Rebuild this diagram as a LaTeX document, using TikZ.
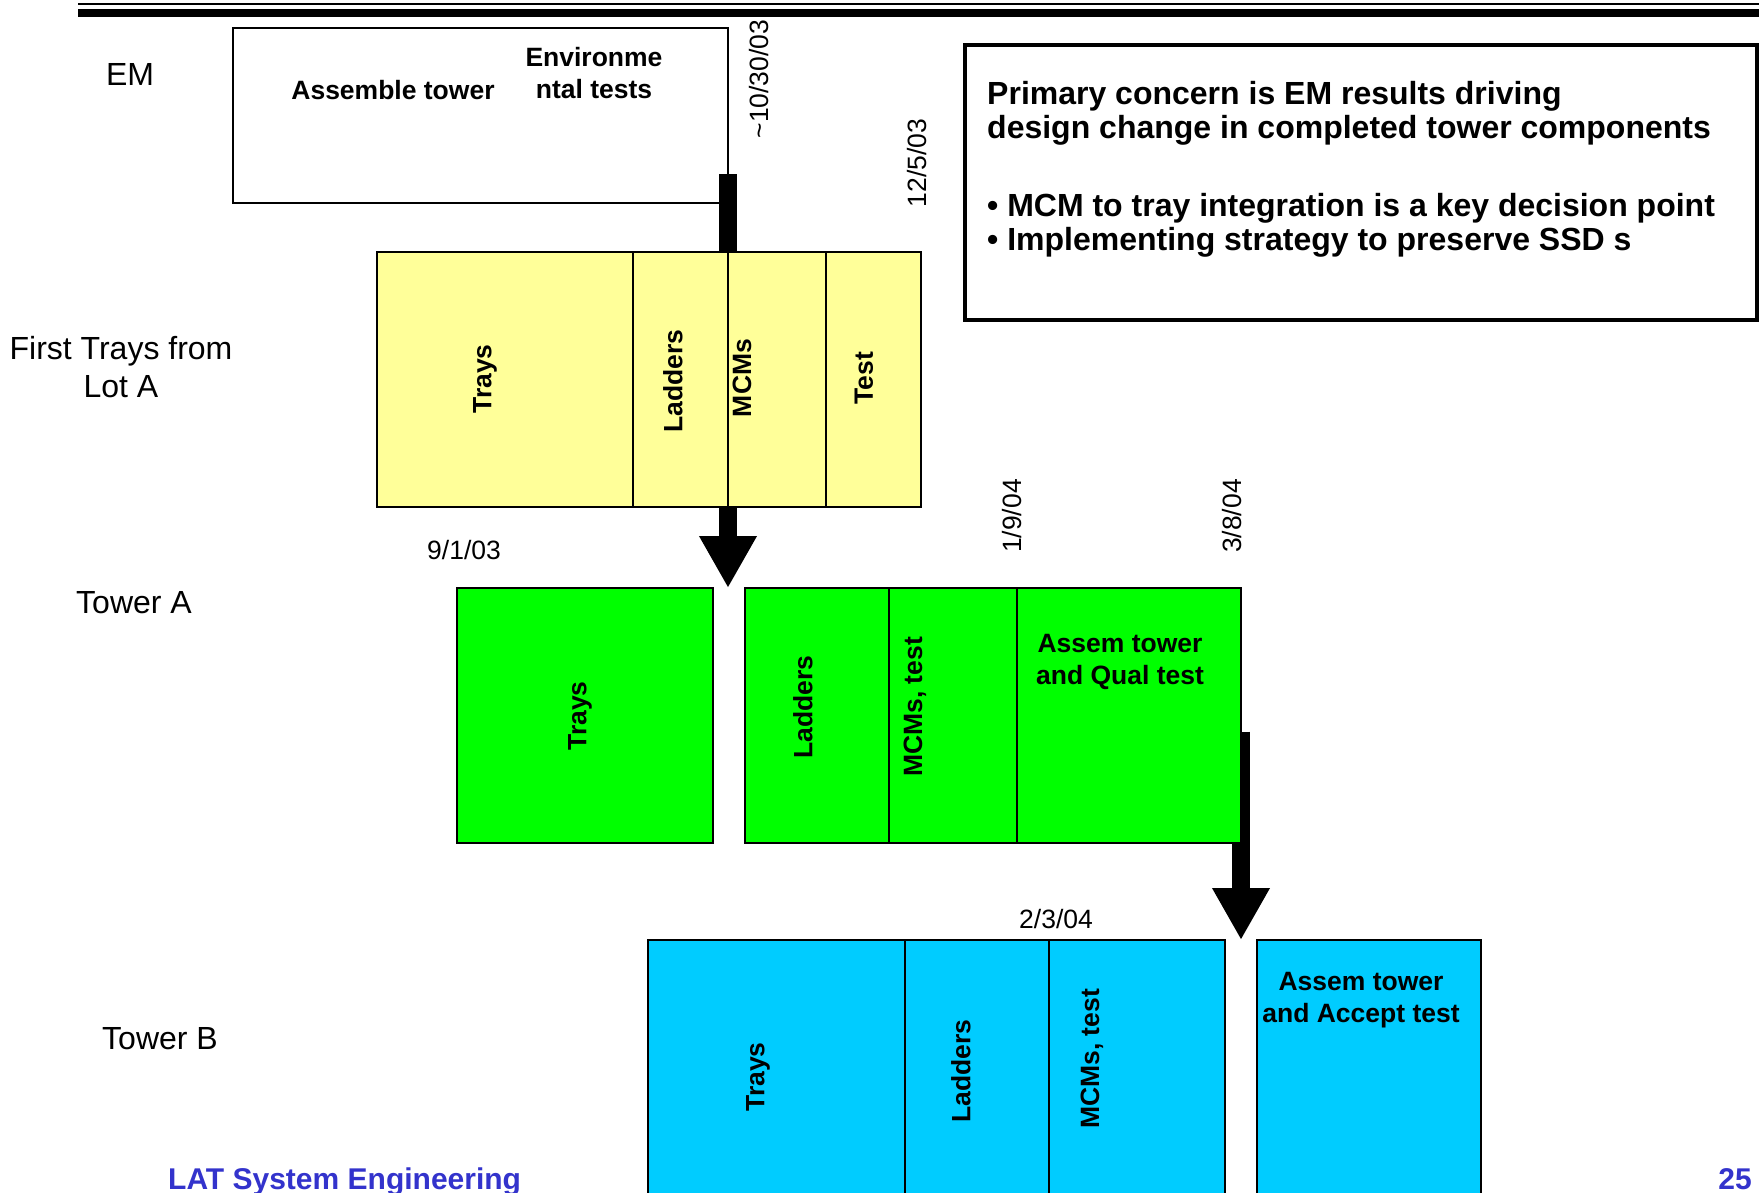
\documentclass[tikz,border=0pt]{standalone}
\usepackage{fontspec}
\setmainfont{Liberation Sans}
\usetikzlibrary{arrows.meta,backgrounds}
\definecolor{trayYellow}{RGB}{255,255,153}
\definecolor{towerGreen}{RGB}{0,255,0}
\definecolor{towerCyan}{RGB}{0,204,255}
\definecolor{footBlue}{RGB}{51,51,204}
\newcommand{\sidefont}{\fontsize{32}{38}\selectfont}
\newcommand{\datefont}{\fontsize{26.5}{31}\selectfont}
\newcommand{\cellfont}{\fontsize{26.5}{32}\selectfont\bfseries}

\begin{document}
\begin{tikzpicture}[
    x=1pt, y=-1pt,
    cell/.style={draw, line width=2pt, anchor=north west, inner sep=0pt, outer sep=0pt},
    cellY/.style={cell, fill=trayYellow, minimum height=255pt},
    cellG/.style={cell, fill=towerGreen, minimum height=255pt},
    cellB/.style={cell, fill=towerCyan, minimum height=262pt},
    side/.style={font=\sidefont, align=center, inner sep=0pt},
    datelbl/.style={font=\datefont, inner sep=0pt},
    vlbl/.style={font=\cellfont, rotate=90, inner sep=0pt},
    hlbl/.style={font=\cellfont, align=center, inner sep=0pt},
    bar/.style={line width=18pt},
    bigarrow/.style={line width=18pt, -{Triangle[width=54pt, length=52pt]}}
]
\useasboundingbox (0,0) rectangle (1759,1192);
% slide header rules
\draw[line width=2.5pt] (78,4) -- (1759,4);
\draw[line width=8.5pt] (78,13) -- (1759,13);

% row labels
\node[side, anchor=base] (lEM) at (130,85) {EM};
\node[side] (lLotA) at (121,367) {First Trays from\\Lot A};
\node[side, anchor=base] (lTowerA) at (134,613) {Tower A};
\node[side, anchor=base] (lTowerB) at (160,1049) {Tower B};

% EM
\node[cell, minimum width=495pt, minimum height=175pt] (em) at (233,28) {};
\node[hlbl, anchor=base] (emAssemble) at (393,99) {Assemble tower};
\node[hlbl] (emEnv) at (594,73) {Environme\\ntal tests};

% first trays, lot A
\node[cellY, minimum width=256pt] (yTrays) at (377,252) {};
\node[cellY, minimum width=95pt] (yLad) at (yTrays.north east) {};
\node[cellY, minimum width=98pt] (yMCM) at (yLad.north east) {};
\node[cellY, minimum width=95pt] (yTest) at (yMCM.north east) {};
\node[vlbl] at (485,379) {Trays};
\node[vlbl] at (673,381) {Ladders};
\node[vlbl] at (742,378) {MCMs};
\node[vlbl] at (864,378) {Test};

% tower A
\node[cellG, minimum width=256pt] (gTrays) at (457,588) {};
\node[cellG, minimum width=144pt] (gLad) at (745,588) {};
\node[cellG, minimum width=128pt] (gMCM) at (gLad.north east) {};
\node[cellG, minimum width=224pt] (gAssem) at (gMCM.north east) {};
\node[vlbl] at (580,716) {Trays};
\node[vlbl] at (803,707) {Ladders};
\node[vlbl] at (915,707) {MCMs, test};
\node[hlbl] (gAssemTxt) at (1120,662) {Assem tower\\and Qual test};

% tower B
\node[cellB, minimum width=257pt] (cTrays) at (648,940) {};
\node[cellB, minimum width=144pt] (cLad) at (cTrays.north east) {};
\node[cellB, minimum width=176pt] (cMCM) at (cLad.north east) {};
\node[cellB, minimum width=224pt] (cAssem) at (1257,940) {};
\node[vlbl] at (758,1077) {Trays};
\node[vlbl] at (961,1071) {Ladders};
\node[vlbl] at (1092,1059) {MCMs, test};
\node[hlbl] (cAssemTxt) at (1361,1000) {Assem tower\\and Accept test};

% dates
\node[datelbl, rotate=90] (dEM) at (759,79) {\textasciitilde 10/30/03};
\node[datelbl, rotate=90] (dLotA) at (917,163) {12/5/03};
\node[datelbl, anchor=base] (dTowerA) at (464,559) {9/1/03};
\node[datelbl, rotate=90] (dMCMA) at (1012,516) {1/9/04};
\node[datelbl, rotate=90] (dQualA) at (1232,516) {3/8/04};
\node[datelbl, anchor=base] (dTowerB) at (1056,928) {2/3/04};

% hand-offs
\draw[bar] ([yshift=29pt]em.south east) -- (yLad.north east);
\draw[bigarrow] (yLad.south east) -- (yLad.south east |- gTrays.north);
\begin{scope}[on background layer]
\draw[bigarrow] ([yshift=-16pt]gAssem.east) -- (gAssem.east |- cMCM.north);
\end{scope}

% note
\node[draw, line width=4pt, anchor=north west, inner sep=0pt, outer sep=0pt,
      minimum width=792pt, minimum height=275pt] (noteBox) at (965,45) {};
\node[font=\fontsize{32}{34}\selectfont\bfseries, align=left, anchor=west, inner sep=0pt] (note) at (987,169)
  {Primary concern is EM results driving\\design change in completed tower components\\[44pt]%
   \textbullet{} MCM to tray integration is a key decision point\\\textbullet{} Implementing strategy to preserve SSD s};

% footer
\node[font=\fontsize{30}{36}\selectfont\bfseries, text=footBlue, anchor=base west, inner sep=0pt] (foot) at (168,1189) {LAT System Engineering};
\node[font=\fontsize{30}{36}\selectfont\bfseries, text=footBlue, anchor=base east, inner sep=0pt] (pageNo) at (1752,1189) {25};
\end{tikzpicture}
\end{document}
